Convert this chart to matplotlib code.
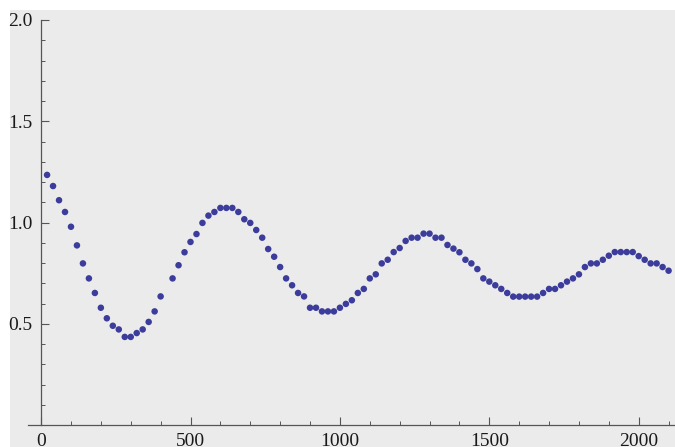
import numpy as np
import matplotlib
matplotlib.use('Agg')
import matplotlib.pyplot as plt
from matplotlib.patches import Rectangle
from matplotlib.ticker import FixedLocator

plt.rcParams['font.family'] = ['Liberation Serif', 'DejaVu Serif']

# sample positions (x = 420 is missing in the source)
xs = [20, 40, 60, 80, 100, 120, 140, 160, 180, 200, 220, 240, 260, 280, 300,
      320, 340, 360, 380, 400, 440, 460, 480, 500, 520, 540, 560, 580, 600,
      620, 640, 660, 680, 700, 720, 740, 760, 780, 800, 820, 840, 860, 880,
      900, 920, 940, 960, 980, 1000, 1020, 1040, 1060, 1080, 1100, 1120, 1140,
      1160, 1180, 1200, 1220, 1240, 1260, 1280, 1300, 1320, 1340, 1360, 1380,
      1400, 1420, 1440, 1460, 1480, 1500, 1520, 1540, 1560, 1580, 1600, 1620,
      1640, 1660, 1680, 1700, 1720, 1740, 1760, 1780, 1800, 1820, 1840, 1860,
      1880, 1900, 1920, 1940, 1960, 1980, 2000, 2020, 2040, 2060, 2080, 2100]
ys = [1.235, 1.180, 1.110, 1.052, 0.979, 0.887, 0.798, 0.724, 0.652, 0.579,
      0.527, 0.490, 0.472, 0.435, 0.435, 0.454, 0.472, 0.509, 0.561, 0.635,
      0.724, 0.789, 0.853, 0.904, 0.943, 0.998, 1.034, 1.052, 1.072, 1.072,
      1.072, 1.052, 1.016, 0.998, 0.963, 0.925, 0.869, 0.831, 0.780, 0.724,
      0.690, 0.652, 0.635, 0.579, 0.579, 0.561, 0.561, 0.561, 0.579, 0.598,
      0.616, 0.652, 0.672, 0.724, 0.744, 0.798, 0.816, 0.854, 0.874, 0.909,
      0.925, 0.925, 0.945, 0.945, 0.925, 0.925, 0.889, 0.871, 0.853, 0.816,
      0.798, 0.770, 0.724, 0.708, 0.690, 0.672, 0.652, 0.634, 0.634, 0.634,
      0.634, 0.634, 0.652, 0.672, 0.672, 0.690, 0.708, 0.724, 0.744, 0.780,
      0.798, 0.798, 0.816, 0.836, 0.854, 0.854, 0.854, 0.854, 0.834, 0.816,
      0.798, 0.798, 0.780, 0.762]

x_major = [0, 500, 1000, 1500, 2000]
x_minor = [v for v in range(100, 2200, 100) if v % 500]
y_major = [0.5, 1.0, 1.5, 2.0]
y_minor = [0.1, 0.2, 0.3, 0.4, 0.6, 0.7, 0.8, 0.9,
           1.1, 1.2, 1.3, 1.4, 1.6, 1.7, 1.8, 1.9]

W, H = 675, 447
fig = plt.figure(figsize=(W / 100, H / 100), dpi=100)
fig.patch.set_facecolor('white')
fig.patches.append(Rectangle((10 / W, 0), 1 - 10 / W, (H - 10) / H,
                             transform=fig.transFigure, facecolor='#ebebeb',
                             edgecolor='none', zorder=-5))

# axes fill the figure; limits chosen so 0 sits at x=41px, y=425px
ax = fig.add_axes([0, 0, 1, 1])
ax.set_zorder(1)
ax.patch.set_visible(False)
sx = 0.2988   # px per x unit
sy = 202.5    # px per y unit
ax.set_xlim(-41.1 / sx, (W - 41.1) / sx)
ax.set_ylim((425 - H) / sy, 425 / sy)

ax.scatter(xs, ys, s=22, color='#3c3c9c', edgecolors='none', zorder=3)

axis_col = '#555555'
for side in ['top', 'right']:
    ax.spines[side].set_visible(False)
ax.spines['left'].set_position(('data', 0))
ax.spines['bottom'].set_position(('data', 0))
ax.spines['left'].set_bounds(0, 2.0)
ax.spines['bottom'].set_bounds(-45, (W - 41.1) / sx)
for side in ['left', 'bottom']:
    ax.spines[side].set_color(axis_col)
    ax.spines[side].set_linewidth(0.9)

ax.set_xticks(x_major)
ax.set_yticks(y_major)
ax.set_yticklabels(['0.5', '1.0', '1.5', '2.0'])
ax.xaxis.set_minor_locator(FixedLocator(x_minor))
ax.yaxis.set_minor_locator(FixedLocator(y_minor))
ax.tick_params(which='major', direction='in', length=5.5, width=0.8,
               color=axis_col, labelsize=14, labelcolor='#1a1a1a')
ax.tick_params(which='minor', direction='in', length=3, width=0.7,
               color=axis_col)
ax.tick_params(axis='x', which='major', pad=5.5)
ax.tick_params(axis='y', which='major', pad=6)

fig.savefig('out.png', dpi=100)
